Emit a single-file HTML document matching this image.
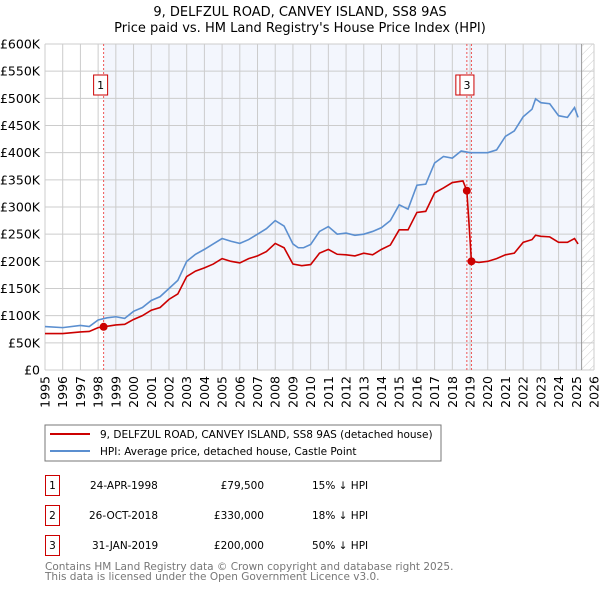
<!DOCTYPE html>
<html><head><meta charset="utf-8"><style>
body{margin:0;background:#fff;font-family:"Liberation Sans","DejaVu Sans",sans-serif;}
svg text{font-family:"DejaVu Sans","Liberation Sans",sans-serif;}
</style></head><body>
<svg id="chart" width="600" height="590" viewBox="0 0 600 590" xmlns="http://www.w3.org/2000/svg">
<defs><pattern id="hatch" width="6" height="6" patternUnits="userSpaceOnUse" patternTransform="rotate(45)"><line x1="0" y1="0" x2="0" y2="6" stroke="#ccc" stroke-width="1"/></pattern></defs>
<text x="300" y="16" text-anchor="middle" font-size="13">9, DELFZUL ROAD, CANVEY ISLAND, SS8 9AS</text>
<text x="300" y="32" text-anchor="middle" font-size="13">Price paid vs. HM Land Registry's House Price Index (HPI)</text>
<g id="plot"></g>
<rect x="45" y="425" width="396" height="36" fill="#fff" stroke="#777"/>
<line x1="50" y1="434" x2="90" y2="434" stroke="#cc0000" stroke-width="2"/>
<text x="100" y="438" font-size="10.5">9, DELFZUL ROAD, CANVEY ISLAND, SS8 9AS (detached house)</text>
<line x1="50" y1="451" x2="90" y2="451" stroke="#5b8fd0" stroke-width="2"/>
<text x="100" y="455" font-size="10.5">HPI: Average price, detached house, Castle Point</text>
<g font-size="10.5">
<rect x="45.5" y="475.5" width="14" height="20" fill="none" stroke="#c00"/><text x="52.5" y="489" text-anchor="middle">1</text>
<text x="90" y="489">24-APR-1998</text><text x="264" y="489" text-anchor="end">£79,500</text><text x="312" y="489">15% ↓ HPI</text>
<rect x="45.5" y="505.5" width="14" height="20" fill="none" stroke="#c00"/><text x="52.5" y="519" text-anchor="middle">2</text>
<text x="89" y="519">26-OCT-2018</text><text x="264" y="519" text-anchor="end">£330,000</text><text x="312" y="519">18% ↓ HPI</text>
<rect x="45.5" y="535.5" width="14" height="20" fill="none" stroke="#c00"/><text x="52.5" y="549" text-anchor="middle">3</text>
<text x="92" y="549">31-JAN-2019</text><text x="264" y="549" text-anchor="end">£200,000</text><text x="312" y="549">50% ↓ HPI</text>
</g>
<text x="45" y="570" font-size="10.5" fill="#777">Contains HM Land Registry data © Crown copyright and database right 2025.</text>
<text x="45" y="580" font-size="10.5" fill="#777">This data is licensed under the Open Government Licence v3.0.</text>
</svg>
<script>
const hpiYears=[1995,1996,1997,1997.5,1998,1998.5,1999,1999.5,2000,2000.5,2001,2001.5,2002,2002.5,2003,2003.5,2004,2004.5,2005,2005.5,2006,2006.5,2007,2007.5,2008,2008.5,2009,2009.3,2009.6,2010,2010.5,2011,2011.5,2012,2012.5,2013,2013.5,2014,2014.5,2015,2015.5,2016,2016.5,2017,2017.5,2018,2018.5,2019,2019.5,2020,2020.5,2021,2021.5,2022,2022.5,2022.7,2023,2023.5,2024,2024.5,2024.9,2025.1];
const hpiValues=[80,78,82,80,92,96,98,95,108,115,128,135,150,165,200,213,222,232,242,237,233,240,250,260,275,265,232,225,225,231,255,264,250,252,248,250,255,262,275,304,296,340,342,381,393,390,403,400,400,400,405,430,440,466,480,499,492,490,468,465,483,465];
const propYears=[1995,1996,1997,1997.5,1998,1998.31,1999,1999.5,2000,2000.5,2001,2001.5,2002,2002.5,2003,2003.5,2004,2004.5,2005,2005.5,2006,2006.5,2007,2007.5,2008,2008.5,2009,2009.5,2010,2010.5,2011,2011.5,2012,2012.5,2013,2013.5,2014,2014.5,2015,2015.5,2016,2016.5,2017,2017.5,2018,2018.6,2018.82,2019.08,2019.5,2020,2020.5,2021,2021.5,2022,2022.5,2022.7,2023,2023.5,2024,2024.5,2024.9,2025.1];
const propValues=[67,67,70,71,78,79.5,83,84,93,100,110,115,130,140,172,182,188,195,205,200,197,205,210,218,233,225,195,192,194,215,222,213,212,210,215,212,222,230,258,258,290,292,326,335,345,348,330,200,198,200,205,212,215,235,240,248,246,245,235,235,242,232];
const saleYears=[1998.31,2018.82,2019.08];
const saleValues=[79.5,330,200];
const saleLabels=["1","2","3"];
const yTicks=[0,50,100,150,200,250,300,350,400,450,500,550,600];
const yTickLabels=["£0","£50K","£100K","£150K","£200K","£250K","£300K","£350K","£400K","£450K","£500K","£550K","£600K"];
const xTicks=[1995,1996,1997,1998,1999,2000,2001,2002,2003,2004,2005,2006,2007,2008,2009,2010,2011,2012,2013,2014,2015,2016,2017,2018,2019,2020,2021,2022,2023,2024,2025,2026];

const X0=45,X1=594,Y0=370,Y1=44;
const xs=y=>X0+(y-1995)/(2026-1995)*(X1-X0);
const ys=v=>Y0-v/600*(Y0-Y1);
const NS="http://www.w3.org/2000/svg";
const g=document.getElementById('plot');
function mk(t,a){const e=document.createElementNS(NS,t);for(const k in a)e.setAttribute(k,a[k]);g.appendChild(e);return e;}

const bg=mk('rect',{x:X0,y:Y1,width:X1-X0,height:Y0-Y1,fill:'#fff'});


const sh=mk('rect',{x:xs(saleYears[0]),y:Y1,width:xs(2025.3)-xs(saleYears[0]),height:Y0-Y1,fill:'#f3f6fd'});


const ht=mk('rect',{x:xs(2025.3),y:Y1,width:X1-xs(2025.3),height:Y0-Y1,fill:'url(#hatch)'});



yTicks.forEach((v,i)=>{
  const l=mk('line',{x1:X0,x2:X1,y1:ys(v),y2:ys(v),stroke:'#ccc','stroke-width':1});
  
  
  const t=mk('text',{x:40,y:ys(v)+4.5,'text-anchor':'end','font-size':12.5});
  t.textContent=yTickLabels[i];
  
  
});
xTicks.forEach(yr=>{
  const l=mk('line',{x1:xs(yr),x2:xs(yr),y1:Y1,y2:Y0,stroke:'#ccc','stroke-width':1});
  
  
  const t=mk('text',{x:0,y:0,'font-size':12.5,'text-anchor':'end',transform:`translate(${xs(yr)+4.5},376) rotate(-90)`});
  t.textContent=yr;
  
  
});
const vl=mk('line',{x1:xs(2025.3),x2:xs(2025.3),y1:Y1,y2:Y0,stroke:'#999','stroke-width':1});



saleYears.forEach(yr=>{
  const l=mk('line',{x1:xs(yr),x2:xs(yr),y1:Y1,y2:Y0,stroke:'#e55','stroke-width':1,'stroke-dasharray':'2,2'});
  
  
});

const hp=mk('polyline',{points:hpiYears.map((y,i)=>xs(y)+','+ys(hpiValues[i])).join(' '),fill:'none',stroke:'#5b8fd0','stroke-width':1.6});


const pp=mk('polyline',{points:propYears.map((y,i)=>xs(y)+','+ys(propValues[i])).join(' '),fill:'none',stroke:'#cc0000','stroke-width':1.6});



saleYears.forEach((yr,i)=>{
  const c=mk('circle',{cx:xs(yr),cy:ys(saleValues[i]),r:4,fill:'#cc0000'});
  
  
});
const boxOff=[-3,-4,-4.5];
saleYears.forEach((yr,i)=>{
  const cx=xs(yr)+boxOff[i];
  const r=mk('rect',{x:cx-7,y:75,width:14,height:20,fill:'#fff',stroke:'#c00','stroke-width':1});
  
  
  const t=mk('text',{x:cx,y:89,'text-anchor':'middle','font-size':11});
  t.textContent=saleLabels[i];
  
  
});
</script>
</body></html>
